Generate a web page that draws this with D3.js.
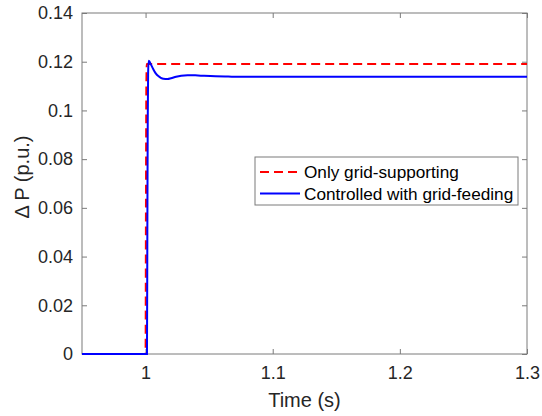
<!DOCTYPE html>
<html>
<head>
<meta charset="utf-8">
<script src="https://cdn.jsdelivr.net/npm/d3@7"></script>
<style>
  html, body { margin: 0; padding: 0; background: #fff; }
  svg { display: block; font-family: "Liberation Sans", Arial, Helvetica, sans-serif; }
</style>
</head>
<body>
<svg id="chart" width="542" height="416"></svg>
<script>
// Power step response: grid-supporting only vs. controlled with grid-feeding
const supportTime  = [0.95, 1.0, 1.0003, 1.0006, 1.001, 1.3];
const supportValue = [0, 0, 0.06, 0.11, 0.1191, 0.1191];

const feedTime  = [0.95, 1.0, 1.0011, 1.0014, 1.0017, 1.002, 1.0024, 1.003, 1.004, 1.006, 1.008,
                   1.010, 1.012, 1.014, 1.0173, 1.020, 1.024, 1.028, 1.033, 1.039, 1.046, 1.055, 1.065, 1.08, 1.3];
const feedValue = [0, 0, 0, 0.05, 0.095, 0.115, 0.1204, 0.1201, 0.1191, 0.1170, 0.1152,
                   0.1141, 0.1134, 0.1130, 0.1129, 0.1132, 0.1138, 0.1142, 0.1144, 0.1144, 0.1142, 0.1140, 0.1139, 0.1138, 0.1138];

const xTicks = [1, 1.1, 1.2, 1.3];
const xTickLabels = ["1", "1.1", "1.2", "1.3"];
const yTicks = [0, 0.02, 0.04, 0.06, 0.08, 0.1, 0.12, 0.14];
const yTickLabels = ["0", "0.02", "0.04", "0.06", "0.08", "0.1", "0.12", "0.14"];

const seriesNames = ["Only grid-supporting", "Controlled with grid-feeding"];

const svg = d3.select("#chart");
const plotLeft = 82, plotRight = 527, plotTop = 13, plotBottom = 354;
const axisColor = "#7a7a7a", textColor = "#262626";

const x = d3.scaleLinear().domain([0.95, 1.3]).range([plotLeft, plotRight]);
const y = d3.scaleLinear().domain([0, 0.14]).range([plotBottom, plotTop]);

// Axes with inward ticks on all four sides
function styleAxis(g) {
  g.select(".domain").remove();
  g.selectAll(".tick line").attr("stroke", axisColor);
  g.selectAll(".tick text").attr("fill", textColor).attr("font-size", 18)
    .attr("font-family", "'Liberation Sans', Arial, sans-serif");
}

svg.append("g").attr("transform", `translate(0,${plotBottom})`)
  .call(d3.axisBottom(x).tickValues(xTicks).tickSize(-5).tickPadding(12)
    .tickFormat((d, i) => xTickLabels[i]))
  .call(styleAxis);
svg.append("g").attr("transform", `translate(0,${plotTop})`)
  .call(d3.axisTop(x).tickValues(xTicks).tickSize(-5).tickFormat(""))
  .call(styleAxis);
svg.append("g").attr("transform", `translate(${plotLeft},0)`)
  .call(d3.axisLeft(y).tickValues(yTicks).tickSize(-5).tickPadding(9)
    .tickFormat((d, i) => yTickLabels[i]))
  .call(styleAxis);
svg.append("g").attr("transform", `translate(${plotRight},0)`)
  .call(d3.axisRight(y).tickValues(yTicks).tickSize(-5).tickFormat(""))
  .call(styleAxis);

svg.append("rect")
  .attr("x", plotLeft).attr("y", plotTop)
  .attr("width", plotRight - plotLeft).attr("height", plotBottom - plotTop)
  .attr("fill", "none").attr("stroke", axisColor).attr("stroke-width", 1);

// Curves
const line = d3.line()
  .x(d => x(d[0]))
  .y(d => y(d[1]))
  .curve(d3.curveMonotoneX);

svg.append("path")
  .datum(supportTime.map((t, i) => [t, supportValue[i]]))
  .attr("d", line)
  .attr("fill", "none").attr("stroke", "#ff0000")
  .attr("stroke-width", 2).attr("stroke-dasharray", "9,5");

svg.append("path")
  .datum(feedTime.map((t, i) => [t, feedValue[i]]))
  .attr("d", line)
  .attr("fill", "none").attr("stroke", "#0000ff")
  .attr("stroke-width", 2);

// Axis labels
svg.append("text")
  .attr("x", (plotLeft + plotRight) / 2).attr("y", 407)
  .attr("text-anchor", "middle").attr("font-size", 20).attr("fill", textColor)
  .text("Time (s)");

svg.append("text")
  .attr("transform", "translate(29,177) rotate(-90)")
  .attr("text-anchor", "middle").attr("font-size", 20).attr("fill", textColor)
  .text("Δ P (p.u.)");

// Legend
const legend = svg.append("g");
legend.append("rect")
  .attr("x", 255).attr("y", 157).attr("width", 263).attr("height", 48)
  .attr("fill", "#fff").attr("stroke", axisColor).attr("stroke-width", 1);

const legendStyles = [
  { color: "#ff0000", dash: "9,5" },
  { color: "#0000ff", dash: null }
];
seriesNames.forEach((name, i) => {
  const cy = 172 + i * 21.5;
  legend.append("line")
    .attr("x1", 260).attr("x2", 300).attr("y1", cy).attr("y2", cy)
    .attr("stroke", legendStyles[i].color).attr("stroke-width", 2)
    .attr("stroke-dasharray", legendStyles[i].dash);
  legend.append("text")
    .attr("x", 304).attr("y", cy + 6)
    .attr("font-size", 17.2).attr("fill", "#000")
    .text(name);
});
</script>
</body>
</html>
